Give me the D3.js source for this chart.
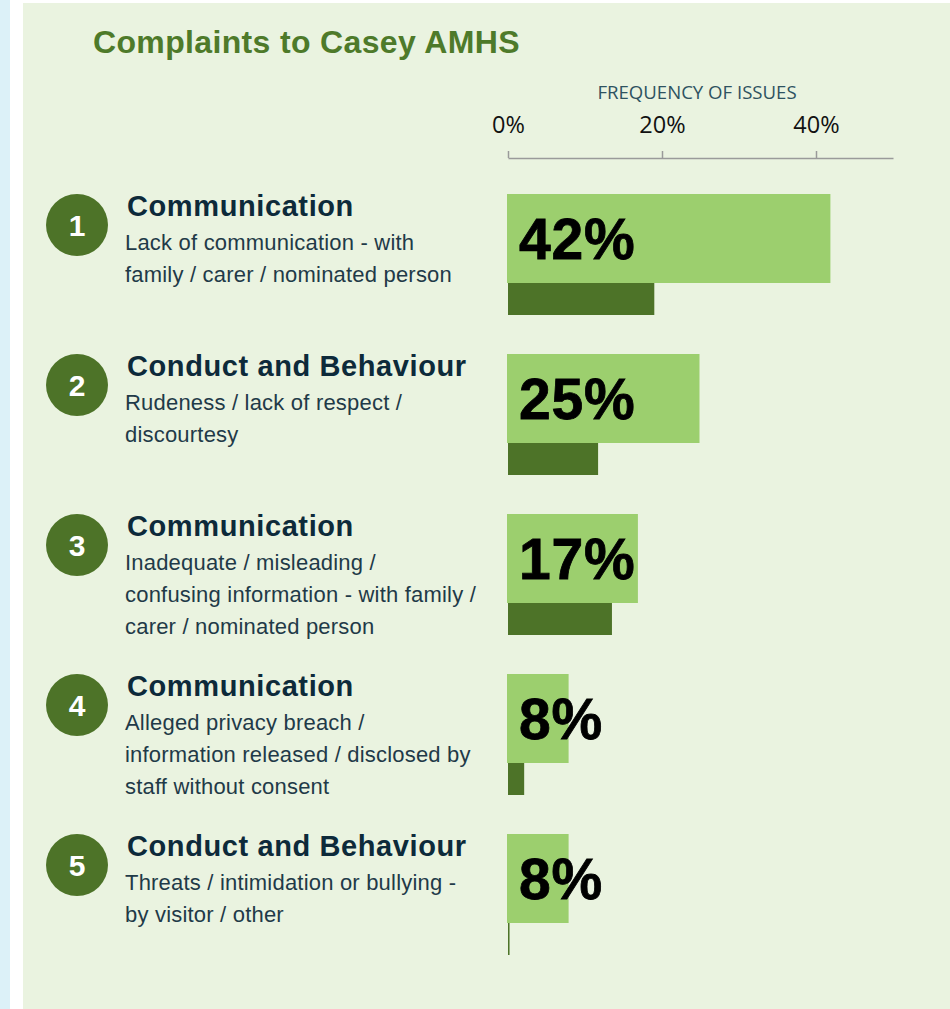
<!DOCTYPE html>
<html>
<head>
<meta charset="utf-8">
<script src="https://cdn.jsdelivr.net/npm/d3@7"></script>
<style>
  html, body { margin: 0; padding: 0; background: #ffffff; }
  svg { display: block; }
</style>
</head>
<body>
<svg id="chart" width="950" height="1009"></svg>
<script>
// ---- data ----
const chartTitle = "Complaints to Casey AMHS";
const axisTitle = "FREQUENCY OF ISSUES";
const ranks = [1, 2, 3, 4, 5];
const categories = ["Communication", "Conduct and Behaviour", "Communication", "Communication", "Conduct and Behaviour"];
const descriptions = [
  ["Lack of communication - with", "family / carer / nominated person"],
  ["Rudeness / lack of respect /", "discourtesy"],
  ["Inadequate / misleading /", "confusing information - with family /", "carer / nominated person"],
  ["Alleged privacy breach /", "information released / disclosed by", "staff without consent"],
  ["Threats / intimidation or bullying -", "by visitor / other"]
];
const currentValues = [42, 25, 17, 8, 8];
const previousValues = [19, 11.7, 13.5, 2.1, 0.2];
const tickValues = [0, 20, 40];

// ---- layout ----
const svg = d3.select("#chart");
const C = {
  panel: "#eaf3e0", strip: "#dcf1f8", title: "#4e7a2a", circle: "#4d7328",
  light: "#9ccf6e", dark: "#4d7328", navy: "#0d2a3a", sub: "#1f3a48"
};

svg.append("rect").attr("x", 0).attr("y", 0).attr("width", 10).attr("height", 1009).attr("fill", C.strip);
svg.append("rect").attr("x", 23).attr("y", 3).attr("width", 927).attr("height", 1006).attr("fill", C.panel);

svg.append("text").attr("x", 93).attr("y", 53)
  .attr("font-family", "Liberation Sans, Arial, sans-serif").attr("font-weight", "bold")
  .attr("font-size", 32).attr("letter-spacing", 0.35).attr("fill", C.title).text(chartTitle);

const x = d3.scaleLinear().domain([0, 50]).range([508, 893]);
const rows = d3.scaleBand().domain(ranks).range([194, 994]).paddingInner(0);

// axis
const axisG = svg.append("g").attr("transform", "translate(0,158)")
  .call(d3.axisTop(x).tickValues(tickValues).tickFormat(d => d + "%").tickSize(7).tickSizeOuter(0).tickPadding(18));
axisG.select(".domain").attr("stroke", "#9a9a9a").attr("stroke-width", 1.5);
axisG.selectAll(".tick line").attr("stroke", "#9a9a9a").attr("stroke-width", 1.5);
axisG.selectAll(".tick text").attr("font-family", "Open Sans, sans-serif").attr("font-size", 23.5).attr("fill", "#111");

svg.append("text").attr("x", 697).attr("y", 99).attr("text-anchor", "middle")
  .attr("font-family", "Open Sans, sans-serif").attr("font-size", 18.6).attr("fill", "#2e5260")
  .text(axisTitle);

const lightH = 89, darkH = 32;

const g = svg.append("g").selectAll("g").data(ranks).join("g")
  .attr("transform", d => `translate(0,${rows(d)})`);

g.append("rect").attr("x", x(0) - 1).attr("y", 0)
  .attr("width", (d, i) => x(currentValues[i]) - x(0)).attr("height", lightH).attr("fill", C.light);
g.append("rect").attr("x", x(0)).attr("y", lightH)
  .attr("width", (d, i) => Math.max(1, x(previousValues[i]) - x(0))).attr("height", darkH).attr("fill", C.dark);
g.append("text").attr("x", 519).attr("y", 65)
  .attr("font-family", "Liberation Sans, Arial, sans-serif").attr("font-weight", "bold")
  .attr("font-size", 57).attr("letter-spacing", 0.8).attr("stroke", "#000").attr("stroke-width", 0.8)
  .attr("fill", "#000").text((d, i) => currentValues[i] + "%");

g.append("circle").attr("cx", 77).attr("cy", 31).attr("r", 31).attr("fill", C.circle);
g.append("text").attr("x", 77).attr("y", 42).attr("text-anchor", "middle")
  .attr("font-family", "Liberation Sans, Arial, sans-serif").attr("font-weight", "bold")
  .attr("font-size", 30).attr("fill", "#fff").text(d => d);

g.append("text").attr("x", 127).attr("y", 22)
  .attr("font-family", "Liberation Sans, Arial, sans-serif").attr("font-weight", "bold")
  .attr("font-size", 29).attr("letter-spacing", 0.6).attr("fill", C.navy).text((d, i) => categories[i]);

g.each(function(d, i) {
  const t = d3.select(this).append("text")
    .attr("font-family", "Liberation Sans, Arial, sans-serif")
    .attr("font-size", 22).attr("letter-spacing", 0.2).attr("fill", C.sub);
  t.selectAll("tspan").data(descriptions[i]).join("tspan")
    .attr("x", 125).attr("y", (s, j) => 56 + j * 32).text(s => s);
});
</script>
</body>
</html>
